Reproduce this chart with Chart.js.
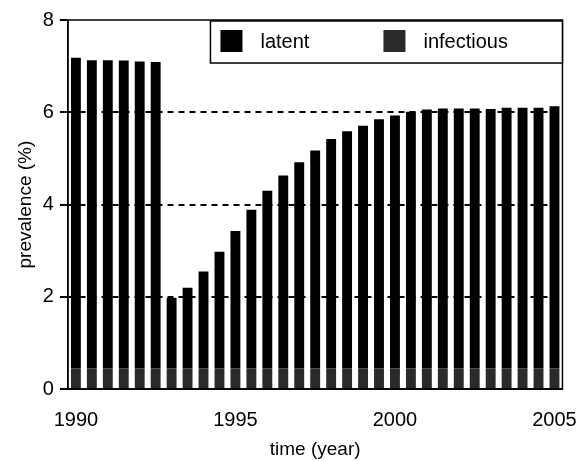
<!DOCTYPE html>
<html>
<head>
<meta charset="utf-8">
<script src="https://cdn.jsdelivr.net/npm/chart.js@4"></script>
<style>
  html, body { margin: 0; padding: 0; background: #fff; }
  #wrap { width: 580px; height: 461px; }
</style>
</head>
<body>
<div id="wrap"><canvas id="grafico"></canvas></div>
<script>
// semi-annual time points
const tiempos = [1990, 1990.5, 1991, 1991.5, 1992, 1992.5, 1993, 1993.5, 1994, 1994.5,
  1995, 1995.5, 1996, 1996.5, 1997, 1997.5, 1998, 1998.5, 1999, 1999.5,
  2000, 2000.5, 2001, 2001.5, 2002, 2002.5, 2003, 2003.5, 2004, 2004.5, 2005];

const latente = [6.73, 6.68, 6.68, 6.67, 6.65, 6.64, 1.53, 1.75, 2.10, 2.53,
  2.98, 3.44, 3.85, 4.18, 4.47, 4.72, 4.97, 5.14, 5.26, 5.40,
  5.48, 5.56, 5.61, 5.63, 5.63, 5.63, 5.62, 5.65, 5.65, 5.65, 5.68];

const infeccioso = [0.45, 0.45, 0.45, 0.45, 0.45, 0.45, 0.45, 0.45, 0.45, 0.45,
  0.45, 0.45, 0.45, 0.45, 0.45, 0.45, 0.45, 0.45, 0.45, 0.45,
  0.45, 0.45, 0.45, 0.45, 0.45, 0.45, 0.45, 0.45, 0.45, 0.45, 0.45];

const etiquetasX = [1990, 1995, 2000, 2005];
const ticksY = [0, 2, 4, 6, 8];

const fuente = "'Liberation Sans', Arial, sans-serif";

// marco del area de trazado + leyenda con borde
const marco = {
  id: 'marco',
  afterDatasetsDraw(chart) {
    const { ctx, chartArea: a } = chart;
    ctx.save();
    ctx.strokeStyle = '#000';
    ctx.lineWidth = 1.5;
    ctx.strokeRect(a.left, a.top, a.right - a.left, a.bottom - a.top);

    // leyenda
    const lx = a.right - 352, ly = a.top + 1, lw = 352, lh = 42;
    ctx.fillStyle = '#fff';
    ctx.fillRect(lx, ly, lw, lh);
    ctx.strokeRect(lx, ly, lw, lh);
    ctx.font = '20px ' + fuente;
    ctx.textBaseline = 'middle';
    const items = [
      { ds: chart.data.datasets[1], x: lx + 10 },
      { ds: chart.data.datasets[0], x: lx + 173 }
    ];
    items.forEach(it => {
      ctx.fillStyle = it.ds.backgroundColor;
      ctx.fillRect(it.x, ly + 9, 22, 22);
      ctx.fillStyle = '#000';
      ctx.fillText(it.ds.label, it.x + 40, ly + 21);
    });
    ctx.restore();
  }
};

new Chart(document.getElementById('grafico'), {
  type: 'bar',
  data: {
    labels: tiempos,
    datasets: [
      {
        label: 'infectious',
        data: infeccioso,
        backgroundColor: '#2a2a2a',
        barPercentage: 0.62,
        categoryPercentage: 1
      },
      {
        label: 'latent',
        data: latente,
        backgroundColor: '#000',
        barPercentage: 0.62,
        categoryPercentage: 1
      }
    ]
  },
  options: {
    responsive: true,
    maintainAspectRatio: false,
    animation: false,
    layout: {
      padding: { left: 4, right: 17, top: 20, bottom: 0 }
    },
    plugins: {
      legend: { display: false },
      tooltip: { enabled: false }
    },
    scales: {
      x: {
        stacked: true,
        grid: {
          drawOnChartArea: false,
          drawTicks: true,
          tickLength: 16,
          tickColor: 'rgba(0,0,0,0)'
        },
        border: { display: true, color: '#000', width: 1.5 },
        ticks: {
          color: '#000',
          font: { family: fuente, size: 20 },
          padding: 3,
          maxRotation: 0,
          autoSkip: false,
          callback: function (val, i) {
            const t = tiempos[i];
            return etiquetasX.includes(t) ? String(t) : '';
          }
        },
        title: {
          display: true,
          text: 'time (year)',
          color: '#000',
          font: { family: fuente, size: 19 },
          padding: { top: 3, bottom: 0 }
        }
      },
      y: {
        stacked: true,
        min: 0,
        max: 8,
        afterBuildTicks: (axis) => {
          axis.ticks = ticksY.map(v => ({ value: v }));
        },
        grid: {
          color: (ctx) => (ctx.tick && ctx.tick.value > 0 && ctx.tick.value < 8) ? '#000' : 'rgba(0,0,0,0)',
          tickColor: '#000',
          lineWidth: 2,
          tickLength: 8
        },
        border: { display: true, color: '#000', width: 1.5, dash: [6, 5] },
        ticks: {
          color: '#000',
          font: { family: fuente, size: 20 },
          padding: 6
        },
        title: {
          display: true,
          text: 'prevalence (%)',
          color: '#000',
          font: { family: fuente, size: 19 },
          padding: { top: 10, bottom: 0 }
        }
      }
    }
  },
  plugins: [marco]
});
</script>
</body>
</html>
